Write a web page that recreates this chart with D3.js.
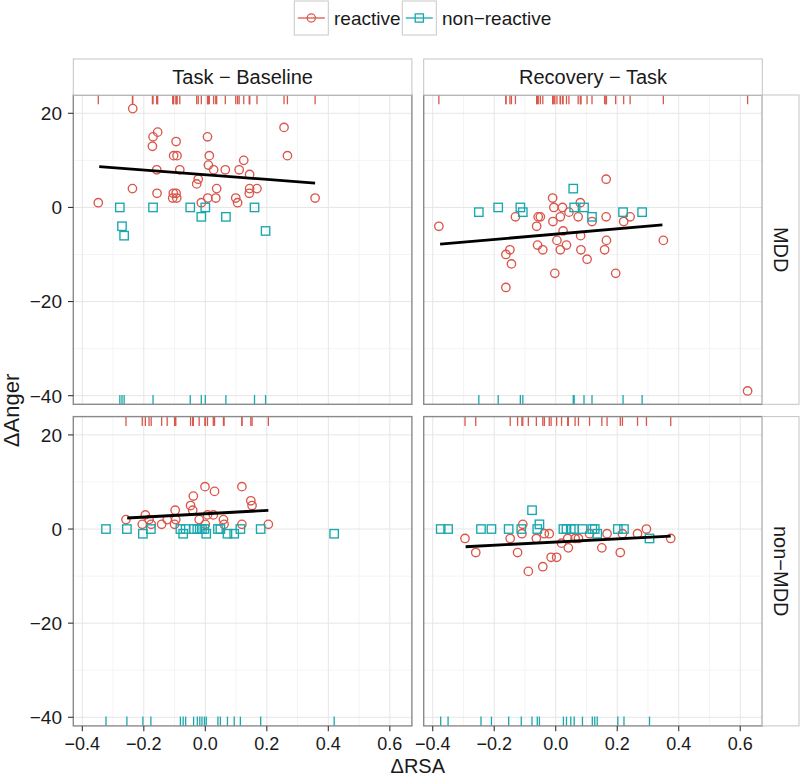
<!DOCTYPE html>
<html>
<head>
<meta charset="utf-8">
<script src="https://cdn.jsdelivr.net/npm/d3@7"></script>
<style>
  html, body { margin: 0; padding: 0; background: #fff; }
  svg { display: block; font-family: "Liberation Sans", Arial, Helvetica, sans-serif; }
</style>
</head>
<body>
<svg id="chart" width="800" height="777"></svg>
<script>
// ---------------- data ----------------
const columns = ["Task − Baseline", "Recovery − Task"];
const rows = ["MDD", "non−MDD"];
const groups = ["reactive", "non−reactive"];
const groupColors = ["#DA564A", "#17A8AE"];

const xTicks = [-0.4, -0.2, 0.0, 0.2, 0.4, 0.6];
const xTickLabels = ["−0.4", "−0.2", "0.0", "0.2", "0.4", "0.6"];
const xMinor = [-0.3, -0.1, 0.1, 0.3, 0.5];
const yTicks = [20, 0, -20, -40];
const yTickLabels = ["20", "0", "−20", "−40"];
const yMinor = [10, -10, -30];
const xDomain = [-0.4293, 0.6718];
const yDomain = [-41.83, 23.89];

// Task − Baseline, MDD
const tbMddReactive = [[-0.236,21],[0.256,17],[-0.155,16],[-0.170,15],[-0.172,13],[-0.095,14],[0.007,15],[-0.103,11],[-0.092,11],[0.013,11],[0.267,11],[0.010,9],[0.125,10],[-0.158,8],[-0.083,8],[0.027,8],[0.065,8],[0.110,8],[0.144,7],[-0.023,6],[-0.028,5],[-0.237,4],[0.037,4],[0.144,4],[0.168,4],[-0.157,3],[-0.104,3],[-0.095,3],[-0.106,2],[-0.093,2],[0.143,3],[0.008,2],[0.034,2],[0.099,2],[0.105,1],[-0.013,1],[-0.348,1],[0.357,2]];
const tbMddNonReactive = [[-0.278,0],[-0.271,-4],[-0.264,-6],[-0.170,0],[-0.049,0],[0.000,0],[-0.013,-2],[0.067,-2],[0.160,0],[0.196,-5]];
const tbMddFit = [[-0.345,8.65],[0.357,5.18]];

// Recovery − Task, MDD
const rtMddReactive = [[-0.380,-4],[0.164,6],[-0.010,2],[0.080,1],[-0.006,0],[0.022,0],[0.043,-1],[-0.131,-2],[-0.057,-2],[-0.050,-2],[0.015,-2],[0.073,-2],[0.164,-2],[0.242,-2],[-0.009,-3],[0.118,-3],[0.221,-3],[-0.062,-4],[0.024,-5],[0.081,-6],[0.004,-7],[0.165,-7],[0.350,-7],[-0.059,-8],[0.035,-8],[-0.149,-9],[-0.042,-9],[0.015,-9],[0.082,-9],[0.159,-9],[-0.162,-10],[0.102,-11],[-0.144,-12],[-0.003,-14],[0.195,-14],[-0.162,-17],[0.624,-39]];
const rtMddNonReactive = [[-0.250,-1],[-0.187,0],[-0.115,0],[-0.107,-1],[0.057,4],[0.060,0],[0.092,0],[0.118,-2],[0.219,-1],[0.281,-1]];
const rtMddFit = [[-0.376,-7.8],[0.347,-3.7]];

// Task − Baseline, non−MDD
const tbNonReactive = [[-0.001,9],[0.119,9],[0.030,8],[-0.039,7],[0.148,6],[0.152,5],[-0.048,5],[-0.098,4],[-0.041,4],[-0.195,3],[0.007,3],[0.026,3],[-0.258,2],[-0.096,2],[-0.020,2],[0.059,2],[-0.124,2],[-0.183,2],[-0.205,1],[-0.176,1],[-0.142,1],[-0.100,1],[0.000,1],[0.061,1],[0.119,1],[0.205,1]];
const tbNonNonReactive = [[-0.323,0],[-0.255,0],[-0.203,-1],[-0.177,0],[-0.081,0],[-0.072,-1],[-0.064,0],[-0.038,0],[-0.026,0],[-0.018,0],[-0.011,0],[-0.003,0],[0.003,-1],[0.041,0],[0.049,0],[0.072,-1],[0.094,-1],[0.114,0],[0.180,0],[0.419,-1]];
const tbNonFit = [[-0.254,2.34],[0.205,3.97]];

// Recovery − Task, non−MDD
const rtNonReactive = [[-0.295,-2],[-0.260,-5],[-0.148,-2],[-0.124,-5],[-0.107,1],[-0.110,-1],[-0.089,-9],[-0.063,-2],[-0.042,-8],[-0.037,-1],[-0.021,-1],[-0.015,-6],[0.003,-6],[0.019,-3],[0.039,-2],[0.041,-4],[0.063,-2],[0.074,-2],[0.110,-1],[0.150,-4],[0.167,-1],[0.210,-5],[0.217,-1],[0.266,-1],[0.295,0],[0.374,-2]];
const rtNonNonReactive = [[-0.374,0],[-0.350,0],[-0.243,0],[-0.209,0],[-0.153,0],[-0.112,0],[-0.077,4],[-0.060,0],[-0.053,1],[0.025,0],[0.035,0],[0.049,0],[0.060,0],[0.087,0],[0.119,0],[0.127,0],[0.135,-1],[0.202,0],[0.222,0],[0.305,-2]];
const rtNonFit = [[-0.293,-3.76],[0.374,-1.49]];

const panels = [
  {col:0, row:0, reactive: tbMddReactive, nonreactive: tbMddNonReactive, fit: tbMddFit},
  {col:1, row:0, reactive: rtMddReactive, nonreactive: rtMddNonReactive, fit: rtMddFit},
  {col:0, row:1, reactive: tbNonReactive, nonreactive: tbNonNonReactive, fit: tbNonFit},
  {col:1, row:1, reactive: rtNonReactive, nonreactive: rtNonNonReactive, fit: rtNonFit}
];

// ---------------- layout ----------------
const colX = [[73.3, 411.9], [423.7, 762.3]];
const rowY = [[95, 404.3], [416.6, 725.9]];
const stripTop = 59;
const stripRight = 799;
const fontTick = 18;
const fontLegend = 19;
const fontStrip = 20;
const textColor = "#1a1a1a";

const svg = d3.select("#chart");

const xScales = colX.map(r => d3.scaleLinear().domain(xDomain).range(r));
const yScales = rowY.map(r => d3.scaleLinear().domain(yDomain).range([r[1], r[0]]));

// panels background + grid
panels.forEach(p => {
  const xs = xScales[p.col], ys = yScales[p.row];
  const g = svg.append("g");
  const [x0, x1] = xs.range();
  const [y1, y0] = ys.range();
  g.append("rect").attr("x", x0).attr("y", y0).attr("width", x1 - x0).attr("height", y1 - y0).attr("fill", "#fff");
  // minor grid
  g.selectAll(".vminor").data(xMinor).enter().append("line")
    .attr("x1", d => xs(d)).attr("x2", d => xs(d)).attr("y1", y0).attr("y2", y1)
    .attr("stroke", "#f4f4f4").attr("stroke-width", 1);
  g.selectAll(".hminor").data(yMinor).enter().append("line")
    .attr("y1", d => ys(d)).attr("y2", d => ys(d)).attr("x1", x0).attr("x2", x1)
    .attr("stroke", "#f4f4f4").attr("stroke-width", 1);
  // major grid
  g.selectAll(".vmajor").data(xTicks).enter().append("line")
    .attr("x1", d => xs(d)).attr("x2", d => xs(d)).attr("y1", y0).attr("y2", y1)
    .attr("stroke", "#e6e6e6").attr("stroke-width", 1);
  g.selectAll(".hmajor").data(yTicks).enter().append("line")
    .attr("y1", d => ys(d)).attr("y2", d => ys(d)).attr("x1", x0).attr("x2", x1)
    .attr("stroke", "#e6e6e6").attr("stroke-width", 1);

  const rugLen = 0.03 * (y1 - y0);
  // rugs: reactive on top, non-reactive at bottom
  g.selectAll(".rugt").data(p.reactive).enter().append("line")
    .attr("x1", d => xs(d[0])).attr("x2", d => xs(d[0]))
    .attr("y1", y0).attr("y2", y0 + rugLen)
    .attr("stroke", groupColors[0]).attr("stroke-width", 1.3);
  g.selectAll(".rugb").data(p.nonreactive).enter().append("line")
    .attr("x1", d => xs(d[0])).attr("x2", d => xs(d[0]))
    .attr("y1", y1).attr("y2", y1 - rugLen)
    .attr("stroke", groupColors[1]).attr("stroke-width", 1.3);

  // points
  g.selectAll(".pt-r").data(p.reactive).enter().append("circle")
    .attr("cx", d => xs(d[0])).attr("cy", d => ys(d[1])).attr("r", 4.2)
    .attr("fill", "none").attr("stroke", groupColors[0]).attr("stroke-width", 1.35);
  const s = 8.4;
  g.selectAll(".pt-n").data(p.nonreactive).enter().append("rect")
    .attr("x", d => xs(d[0]) - s / 2).attr("y", d => ys(d[1]) - s / 2)
    .attr("width", s).attr("height", s)
    .attr("fill", "none").attr("stroke", groupColors[1]).attr("stroke-width", 1.35);

  // fit line
  g.append("path").datum(p.fit)
    .attr("d", d3.line().x(d => xs(d[0])).y(d => ys(d[1])))
    .attr("fill", "none").attr("stroke", "#000").attr("stroke-width", 2.8);

  // border
  g.append("rect").attr("x", x0).attr("y", y0).attr("width", x1 - x0).attr("height", y1 - y0)
    .attr("fill", "none").attr("stroke", "#8a8a8a").attr("stroke-width", 1.4);
});

// top strips
columns.forEach((c, i) => {
  const [x0, x1] = colX[i];
  svg.append("rect").attr("x", x0).attr("y", stripTop).attr("width", x1 - x0).attr("height", rowY[0][0] - stripTop)
    .attr("fill", "#fff").attr("stroke", "#c4c4c4").attr("stroke-width", 1);
  svg.append("text").attr("x", (x0 + x1) / 2).attr("y", (stripTop + rowY[0][0]) / 2)
    .attr("text-anchor", "middle").attr("dominant-baseline", "central")
    .attr("font-size", fontStrip).attr("fill", textColor).text(c);
});
// right strips
rows.forEach((r, i) => {
  const [y0, y1] = rowY[i];
  const x0 = colX[1][1];
  svg.append("rect").attr("x", x0).attr("y", y0).attr("width", stripRight - x0).attr("height", y1 - y0)
    .attr("fill", "#fff").attr("stroke", "#c4c4c4").attr("stroke-width", 1);
  const cx = (x0 + stripRight) / 2, cy = (y0 + y1) / 2;
  svg.append("text").attr("transform", `translate(${cx},${cy}) rotate(90)`)
    .attr("text-anchor", "middle").attr("dominant-baseline", "central")
    .attr("font-size", fontStrip).attr("fill", textColor).text(r);
});

// y axes (left column)
rowY.forEach((r, i) => {
  const ys = yScales[i];
  const x0 = colX[0][0];
  const g = svg.append("g");
  g.selectAll("line").data(yTicks).enter().append("line")
    .attr("x1", x0 - 5.3).attr("x2", x0).attr("y1", d => ys(d)).attr("y2", d => ys(d))
    .attr("stroke", "#333").attr("stroke-width", 1.1);
  g.selectAll("text").data(yTicks).enter().append("text")
    .attr("x", 62).attr("y", d => ys(d)).attr("dy", "0.36em")
    .attr("text-anchor", "end").attr("font-size", fontTick + 1).attr("fill", textColor)
    .text((d, j) => yTickLabels[j]);
});
// x axes (bottom row)
colX.forEach((c, i) => {
  const xs = xScales[i];
  const y0 = rowY[1][1];
  const g = svg.append("g");
  g.selectAll("line").data(xTicks).enter().append("line")
    .attr("x1", d => xs(d)).attr("x2", d => xs(d)).attr("y1", y0).attr("y2", y0 + 5.3)
    .attr("stroke", "#333").attr("stroke-width", 1.1);
  g.selectAll("text").data(xTicks).enter().append("text")
    .attr("x", d => xs(d)).attr("y", 750)
    .attr("text-anchor", "middle").attr("font-size", fontTick).attr("fill", textColor)
    .text((d, j) => xTickLabels[j]);
});

// axis titles
svg.append("text").attr("x", (colX[0][0] + colX[1][1]) / 2).attr("y", 772.5)
  .attr("text-anchor", "middle").attr("font-size", 20).attr("fill", textColor).text("ΔRSA");
svg.append("text").attr("transform", `translate(18.5,${(rowY[0][0] + rowY[1][1]) / 2}) rotate(-90)`)
  .attr("text-anchor", "middle").attr("font-size", 22).attr("fill", textColor).text("ΔAnger");

// legend
const legendKeys = [{x: 294.3, textX: 334}, {x: 402.3, textX: 442}];
groups.forEach((gname, i) => {
  const k = legendKeys[i];
  const size = 34, ky = 1;
  const g = svg.append("g");
  g.append("rect").attr("x", k.x).attr("y", ky).attr("width", size).attr("height", size)
    .attr("fill", "#fff").attr("stroke", "#c8c8c8").attr("stroke-width", 1);
  const cy = ky + size / 2, cx = k.x + size / 2;
  g.append("line").attr("x1", k.x + 3.5).attr("x2", k.x + size - 3.5).attr("y1", cy).attr("y2", cy)
    .attr("stroke", groupColors[i]).attr("stroke-width", 1.3);
  if (i === 0) {
    g.append("circle").attr("cx", cx).attr("cy", cy).attr("r", 4.1)
      .attr("fill", "none").attr("stroke", groupColors[i]).attr("stroke-width", 1.3);
  } else {
    g.append("rect").attr("x", cx - 4.1).attr("y", cy - 4.1).attr("width", 8.2).attr("height", 8.2)
      .attr("fill", "none").attr("stroke", groupColors[i]).attr("stroke-width", 1.3);
  }
  g.append("text").attr("x", k.textX).attr("y", cy).attr("dy", "0.36em")
    .attr("font-size", fontLegend).attr("fill", textColor).text(gname);
});
</script>
</body>
</html>
